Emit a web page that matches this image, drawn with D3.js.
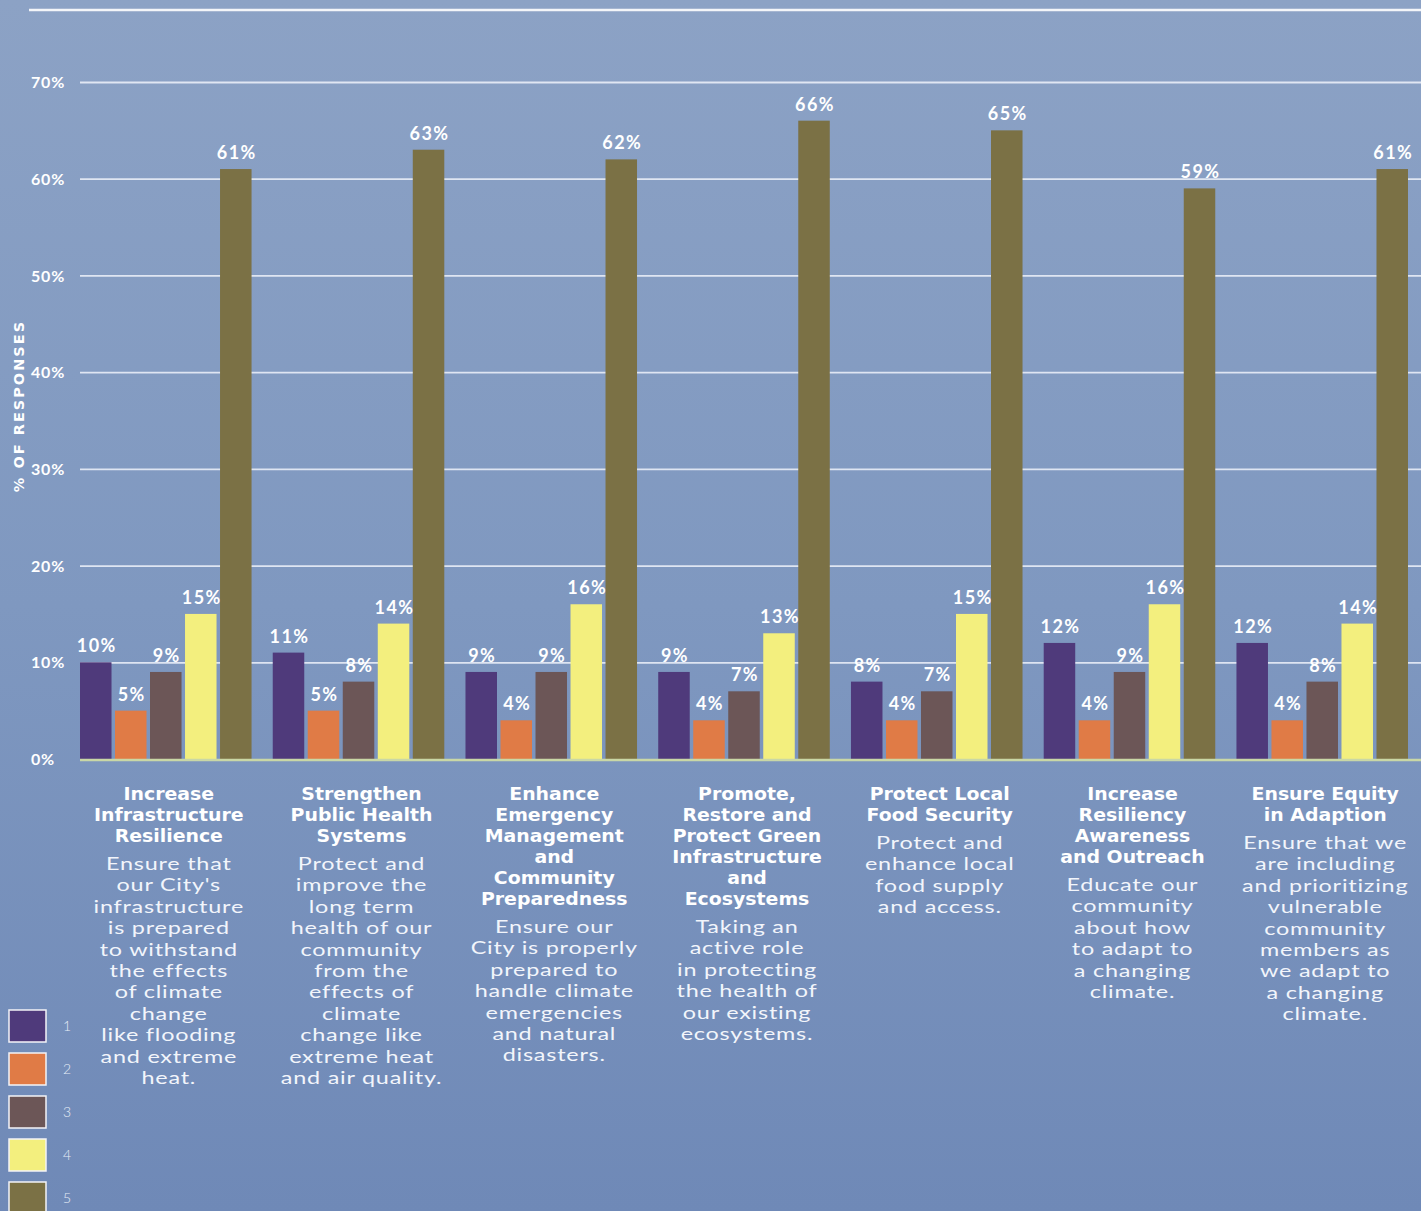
<!DOCTYPE html>
<html>
<head>
<meta charset="utf-8">
<script src="https://cdn.jsdelivr.net/npm/d3@7"></script>
<style>
  html, body { margin: 0; padding: 0; background: #7f98bf; }
  svg { display: block; }
</style>
</head>
<body>
<svg id="chart" width="1421" height="1211"></svg>
<script>
// ---------------- DATA ----------------
const categories = [
  "Increase Infrastructure Resilience",
  "Strengthen Public Health Systems",
  "Enhance Emergency Management and Community Preparedness",
  "Promote, Restore and Protect Green Infrastructure and Ecosystems",
  "Protect Local Food Security",
  "Increase Resiliency Awareness and Outreach",
  "Ensure Equity in Adaption"
];
const seriesNames = ["1", "2", "3", "4", "5"];
const series1 = [10, 11, 9, 9, 8, 12, 12];
const series2 = [5, 5, 4, 4, 4, 4, 4];
const series3 = [9, 8, 9, 7, 7, 9, 8];
const series4 = [15, 14, 16, 13, 15, 16, 14];
const series5 = [61, 63, 62, 66, 65, 59, 61];
const tickValues = [0, 10, 20, 30, 40, 50, 60, 70];
const tickLabels = ["0%", "10%", "20%", "30%", "40%", "50%", "60%", "70%"];
const titleLines = [
  ["Increase", "Infrastructure", "Resilience"],
  ["Strengthen", "Public Health", "Systems"],
  ["Enhance", "Emergency", "Management", "and", "Community", "Preparedness"],
  ["Promote,", "Restore and", "Protect Green", "Infrastructure", "and", "Ecosystems"],
  ["Protect Local", "Food Security"],
  ["Increase", "Resiliency", "Awareness", "and Outreach"],
  ["Ensure Equity", "in Adaption"]
];
const descLines = [
  ["Ensure that", "our City's", "infrastructure", "is prepared", "to withstand", "the effects", "of climate", "change", "like flooding", "and extreme", "heat."],
  ["Protect and", "improve the", "long term", "health of our", "community", "from the", "effects of", "climate", "change like", "extreme heat", "and air quality."],
  ["Ensure our", "City is properly", "prepared to", "handle climate", "emergencies", "and natural", "disasters."],
  ["Taking an", "active role", "in protecting", "the health of", "our existing", "ecosystems."],
  ["Protect and", "enhance local", "food supply", "and access."],
  ["Educate our", "community", "about how", "to adapt to", "a changing", "climate."],
  ["Ensure that we", "are including", "and prioritizing", "vulnerable", "community", "members as", "we adapt to", "a changing", "climate."]
];
const yAxisTitle = "% OF RESPONSES";
const colors = ["#4f3a7b", "#e07b46", "#6c5657", "#f3ef7e", "#7b7145"];

// ---------------- LAYOUT ----------------
const W = 1421, H = 1211;
const svg = d3.select("#chart");
const font = "Lato, 'Noto Sans', sans-serif";
const boldFont = "'DejaVu Sans', Lato, sans-serif";

const defs = svg.append("defs");
const grad = defs.append("linearGradient").attr("id", "bg").attr("x1", 0).attr("y1", 0).attr("x2", 0).attr("y2", 1);
grad.append("stop").attr("offset", "0%").attr("stop-color", "#8ca2c5");
grad.append("stop").attr("offset", "50%").attr("stop-color", "#7f98c0");
grad.append("stop").attr("offset", "100%").attr("stop-color", "#6f89b7");
svg.append("rect").attr("width", W).attr("height", H).attr("fill", "url(#bg)");

// top rule
svg.append("line").attr("x1", 29).attr("x2", W).attr("y1", 10).attr("y2", 10)
  .attr("stroke", "#ffffff").attr("stroke-width", 2.5).attr("opacity", 0.9);

const y = d3.scaleLinear().domain([0, 70]).range([759, 82]);
const x0 = d3.scaleBand().domain(categories).range([80, 1408]).paddingInner(0.11).paddingOuter(0);
const x1 = d3.scaleBand().domain(seriesNames).range([0, x0.bandwidth()]).paddingInner(0.1);
const color = d3.scaleOrdinal().domain(seriesNames).range(colors);

const allSeries = [series1, series2, series3, series4, series5];
const data = categories.map((c, i) => ({
  cat: c,
  values: seriesNames.map((s, k) => ({ key: s, value: allSeries[k][i] }))
}));

// gridlines + y axis
const axis = d3.axisLeft(y)
  .tickValues(tickValues)
  .tickFormat((d, i) => tickLabels[i])
  .tickSize(-(W - 80))
  .tickPadding(0);
const gAxis = svg.append("g").attr("transform", "translate(80,0)").call(axis);
gAxis.select(".domain").remove();
gAxis.selectAll(".tick line")
  .attr("stroke", "#eef2fa").attr("stroke-width", 1.8).attr("opacity", d => d === 0 ? 0 : 0.85);
gAxis.selectAll(".tick text")
  .attr("x", -49).attr("text-anchor", "start").attr("dy", "0.35em")
  .attr("fill", "#ffffff").attr("font-family", font).attr("font-weight", 700)
  .attr("font-size", 16).attr("letter-spacing", 0.8);

// axis title
svg.append("text")
  .attr("transform", "translate(24,406) rotate(-90)")
  .attr("text-anchor", "middle")
  .attr("fill", "#ffffff").attr("font-family", boldFont).attr("font-weight", 700)
  .attr("font-size", 14.5).attr("letter-spacing", 2)
  .text(yAxisTitle);

// bars
const groups = svg.append("g").selectAll("g").data(data).join("g")
  .attr("transform", d => `translate(${x0(d.cat)},0)`);
groups.selectAll("rect").data(d => d.values).join("rect")
  .attr("x", d => x1(d.key))
  .attr("y", d => y(d.value))
  .attr("width", x1.bandwidth())
  .attr("height", d => y(0) - y(d.value))
  .attr("fill", d => color(d.key));
groups.selectAll("text.val").data(d => d.values).join("text")
  .attr("class", "val")
  .attr("x", d => x1(d.key) + x1.bandwidth() / 2 + 1)
  .attr("y", d => y(d.value) - 10)
  .attr("text-anchor", "middle")
  .attr("fill", "#ffffff").attr("font-family", font).attr("font-weight", 700)
  .attr("font-size", 18).attr("letter-spacing", 1.4)
  .text(d => d.value + "%");

// baseline
svg.append("line").attr("x1", 80).attr("x2", W).attr("y1", y(0) + 1).attr("y2", y(0) + 1)
  .attr("stroke", "#c9d7a6").attr("stroke-width", 2.5);

// category labels
const labels = svg.append("g").selectAll("g").data(data).join("g")
  .attr("transform", d => `translate(${x0(d.cat) + x0.bandwidth() / 2 + 3},0)`);
labels.each(function (d, i) {
  const g = d3.select(this);
  const t = titleLines[i];
  const titleTop = 800, tStep = 21;
  g.selectAll("text.title").data(t).join("text")
    .attr("class", "title")
    .attr("transform", (s, j) => `translate(0,${titleTop + j * tStep}) scale(1.05,1)`)
    .attr("text-anchor", "middle")
    .attr("fill", "#ffffff").attr("font-family", boldFont).attr("font-weight", 700)
    .attr("font-size", 18)
    .text(s => s);
  const descTop = titleTop + (t.length - 1) * tStep + 28;
  g.selectAll("text.desc").data(descLines[i]).join("text")
    .attr("class", "desc")
    .attr("transform", (s, j) => `translate(0,${descTop + j * 21.4}) scale(1.3,1)`)
    .attr("text-anchor", "middle")
    .attr("fill", "#f2f5fb").attr("font-family", font).attr("font-weight", 400)
    .attr("font-size", 18).attr("letter-spacing", 0.6)
    .text(s => s);
});

// legend
const legend = svg.append("g").selectAll("g").data(seriesNames).join("g")
  .attr("transform", (d, i) => `translate(9,${1010 + i * 43})`);
legend.append("rect")
  .attr("width", 37).attr("height", 32)
  .attr("fill", d => color(d))
  .attr("stroke", "#f4f4f8").attr("stroke-width", 1.5);
legend.append("text")
  .attr("x", 54).attr("y", 16).attr("dy", "0.35em")
  .attr("fill", "#e6ecf6").attr("font-family", font).attr("font-weight", 300)
  .attr("font-size", 14)
  .text(d => d);
</script>
</body>
</html>
